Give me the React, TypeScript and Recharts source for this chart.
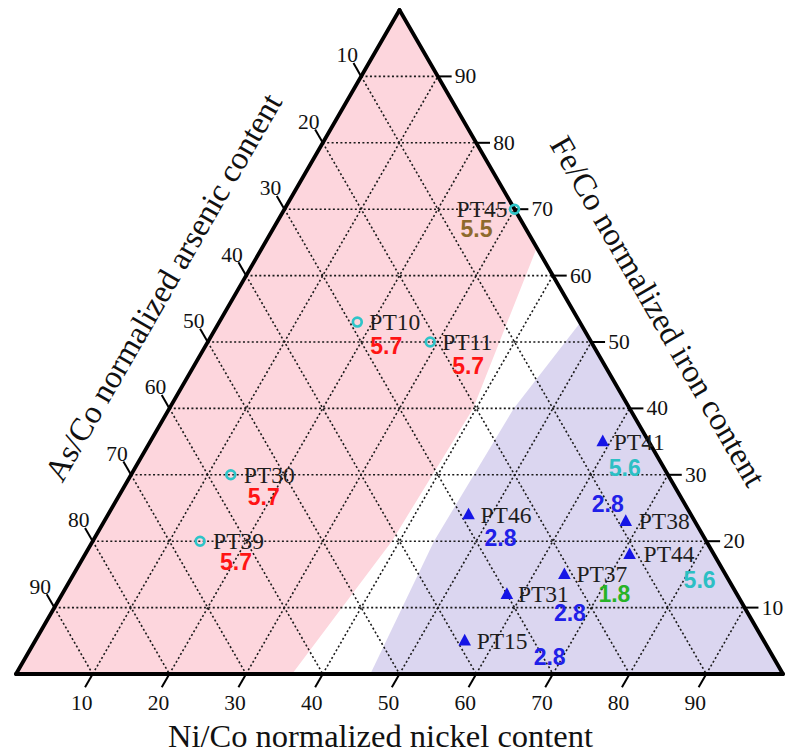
import React from 'react';
import { ComposedChart, XAxis, YAxis, Area, Scatter, ReferenceLine, ReferenceDot } from 'recharts';

// ---------- data (ternary percentages: Ni, Fe; As = 100 - Ni - Fe) ----------
const samples = ['PT45', 'PT10', 'PT11', 'PT30', 'PT39', 'PT41', 'PT46', 'PT38', 'PT44', 'PT37', 'PT31', 'PT15'];
const nickel = [30, 18, 29, 13, 14, 59, 47, 68, 71, 64, 58, 56];
const iron = [70, 53, 50, 30, 20, 35, 24, 23, 18, 15, 12, 5];
const groups = ['circle', 'circle', 'circle', 'circle', 'circle', 'triangle', 'triangle', 'triangle', 'triangle', 'triangle', 'triangle', 'triangle'];
const values = ['5.5', '5.7', '5.7', '5.7', '5.7', '5.6', '2.8', '2.8', '5.6', '1.8', '2.8', '2.8'];

// field boundaries (Ni, Fe)
const pinkBoundaryNi = [36, 39, 39.6, 35.8];
const pinkBoundaryFe = [0, 20, 40, 64.2];
const blueBoundaryNi = [46.2, 44.5, 44.9, 47.1];
const blueBoundaryFe = [0, 20, 40, 52.9];

const tickValues = [10, 20, 30, 40, 50, 60, 70, 80, 90];
const gridValues = [10, 20, 30, 40, 50, 60, 70, 80, 90];

const titleNi = 'Ni/Co normalized nickel content';
const titleFe = 'Fe/Co normalized iron content';
const titleAs = 'As/Co normalized arsenic content';

// ---------- styles / layout ----------
const W = 787;
const H = 753;
const MARGIN = { top: 10, right: 4, bottom: 79, left: 16 };
const SERIF = '"Liberation Serif", "Times New Roman", serif';
const SANS = '"Liberation Sans", Arial, sans-serif';
const PINK = '#fdd6dd';
const LAVENDER = '#dbd6f0';
const CYAN = '#2ec4c8';
const BLUE = '#1515e6';
const valueColor: Record<string, string> = {
  '5.7': '#ff1414',
  '5.5': '#8e6a2c',
  '5.6': '#2cbfc4',
  '2.8': '#2020e8',
  '1.8': '#27b327',
};
const labelLayout: Record<string, { nx: number; ny: number; anchor: 'start' | 'end'; vx: number; vy: number }> = {
  PT45: { nx: -7, ny: 8, anchor: 'end', vx: -54, vy: 28 },
  PT10: { nx: 12, ny: 8, anchor: 'start', vx: 13, vy: 32 },
  PT11: { nx: 12, ny: 8, anchor: 'start', vx: 22, vy: 32 },
  PT30: { nx: 13, ny: 8, anchor: 'start', vx: 17, vy: 30 },
  PT39: { nx: 13, ny: 8, anchor: 'start', vx: 20, vy: 29 },
  PT41: { nx: 11, ny: 8, anchor: 'start', vx: 6, vy: 34 },
  PT46: { nx: 12, ny: 8, anchor: 'start', vx: 16, vy: 31 },
  PT38: { nx: 13, ny: 8, anchor: 'start', vx: -34, vy: -9 },
  PT44: { nx: 14, ny: 8, anchor: 'start', vx: 54, vy: 34 },
  PT37: { nx: 12, ny: 8, anchor: 'start', vx: 34, vy: 28 },
  PT31: { nx: 11, ny: 8, anchor: 'start', vx: 47, vy: 27 },
  PT15: { nx: 12, ny: 8, anchor: 'start', vx: 69, vy: 24 },
};

// ---------- ternary -> cartesian (u along base, v = Fe fraction) ----------
type P = { u: number; v: number };
const tern = (ni: number, fe: number): P => ({ u: (ni + fe / 2) / 100, v: fe / 100 });

const interp = (pts: P[], x: number): number => {
  for (let i = 0; i < pts.length - 1; i++) {
    const a = pts[i];
    const b = pts[i + 1];
    if (x >= a.u - 1e-9 && x <= b.u + 1e-9) {
      if (Math.abs(b.u - a.u) < 1e-12) return b.v;
      return a.v + ((x - a.u) / (b.u - a.u)) * (b.v - a.v);
    }
  }
  return pts[pts.length - 1].v;
};

const rangeData = (lower: P[], upper: P[]) => {
  const xs = Array.from(new Set([...lower, ...upper].map((p) => Number(p.u.toFixed(6))))).sort((a, b) => a - b);
  return xs.map((u) => ({ u, r: [interp(lower, u), interp(upper, u)] }));
};

const pinkBoundary = pinkBoundaryNi.map((n, i) => tern(n, pinkBoundaryFe[i]));
const pinkLower = [tern(0, 0), ...pinkBoundary];
const pinkUpper = [tern(0, 0), tern(0, 100), pinkBoundary[pinkBoundary.length - 1]];
const pinkData = rangeData(pinkLower, pinkUpper);

const blueBoundary = blueBoundaryNi.map((n, i) => tern(n, blueBoundaryFe[i]));
const blueLower = [blueBoundary[0], tern(100, 0)];
const blueUpper = [...blueBoundary, tern(100, 0)];
const blueData = rangeData(blueLower, blueUpper);

const pointData = samples.map((name, i) => ({
  name,
  ...tern(nickel[i], iron[i]),
  group: groups[i],
  value: values[i],
}));

const gridSegments: { a: P; b: P }[] = [];
gridValues.forEach((g) => {
  gridSegments.push({ a: tern(0, g), b: tern(100 - g, g) }); // Fe constant
  gridSegments.push({ a: tern(g, 0), b: tern(g, 100 - g) }); // Ni constant
  gridSegments.push({ a: tern(0, 100 - g), b: tern(100 - g, 0) }); // As constant
});

const edges: { a: P; b: P }[] = [
  { a: tern(0, 0), b: tern(100, 0) },
  { a: tern(100, 0), b: tern(0, 100) },
  { a: tern(0, 100), b: tern(0, 0) },
];

const PointShape = (props: any) => {
  const { cx, cy, payload } = props;
  if (cx == null || cy == null) return null;
  const lay = labelLayout[payload.name];
  const marker =
    payload.group === 'circle' ? (
      <circle cx={cx} cy={cy} r={4.4} fill="none" stroke={CYAN} strokeWidth={2.7} />
    ) : (
      <polygon points={`${cx},${cy - 7} ${cx - 6.3},${cy + 4.6} ${cx + 6.3},${cy + 4.6}`} fill={BLUE} />
    );
  return (
    <g>
      {marker}
      <text x={cx + lay.nx} y={cy + lay.ny} textAnchor={lay.anchor} fontFamily={SERIF} fontSize={23.5} fill="#1e1e1e">
        {payload.name}
      </text>
      <text x={cx + lay.vx} y={cy + lay.vy} textAnchor="start" fontFamily={SANS} fontWeight="bold" fontSize={23} fill={valueColor[payload.value]}>
        {payload.value}
      </text>
    </g>
  );
};

const textShape = (txt: string, dx: number, dy: number, anchor: string, size: number, rotate = 0, center = false) =>
  (p: any) => {
    const x = p.cx + dx;
    const y = p.cy + dy;
    return (
      <text
        x={x}
        y={y}
        dy={center ? '0.35em' : undefined}
        textAnchor={anchor}
        fontFamily={SERIF}
        fontSize={size}
        fill="#111"
        transform={rotate ? `rotate(${rotate} ${x} ${y})` : undefined}
      >
        {txt}
      </text>
    );
  };

export default function App() {
  const midBottom = tern(50, 0);
  const midRight = tern(50, 50);
  const midLeft = tern(0, 50);
  return (
    <div style={{ position: 'absolute', left: 0, top: 0, width: W, height: H, background: '#fff' }}>
      <ComposedChart width={W} height={H} margin={MARGIN}>
        <XAxis type="number" dataKey="u" domain={[0, 1]} hide allowDataOverflow />
        <YAxis type="number" dataKey="v" domain={[0, 1]} hide allowDataOverflow />
        <Area data={pinkData} dataKey="r" type="linear" stroke="none" fill={PINK} fillOpacity={1} isAnimationActive={false} />
        <Area data={blueData} dataKey="r" type="linear" stroke="none" fill={LAVENDER} fillOpacity={1} isAnimationActive={false} />
        {gridSegments.map((s, i) => (
          <ReferenceLine
            key={`g${i}`}
            segment={[{ x: s.a.u, y: s.a.v }, { x: s.b.u, y: s.b.v }]}
            stroke="#1a1a1a"
            strokeWidth={1.6}
            strokeDasharray="2 2.4"
            ifOverflow="visible"
          />
        ))}
        {edges.map((s, i) => (
          <ReferenceLine
            key={`e${i}`}
            segment={[{ x: s.a.u, y: s.a.v }, { x: s.b.u, y: s.b.v }]}
            stroke="#000"
            strokeWidth={3.8}
            strokeLinecap="round"
            ifOverflow="visible"
          />
        ))}
        {tickValues.map((t) => {
          const b = tern(t, 0);
          const r = tern(100 - t, t);
          const l = tern(0, 100 - t);
          return (
            <React.Fragment key={`t${t}`}>
              <ReferenceLine segment={[{ x: b.u, y: b.v }, { x: b.u - 0.01, y: b.v - 0.02 }]} stroke="#000" strokeWidth={2} ifOverflow="visible" />
              <ReferenceLine segment={[{ x: r.u, y: r.v }, { x: r.u + 0.018, y: r.v }]} stroke="#000" strokeWidth={2} ifOverflow="visible" />
              <ReferenceLine segment={[{ x: l.u, y: l.v }, { x: l.u - 0.01, y: l.v + 0.02 }]} stroke="#000" strokeWidth={2} ifOverflow="visible" />
              <ReferenceDot x={b.u} y={b.v} r={0} ifOverflow="visible" shape={textShape(String(t), -11, 36, 'middle', 21.5)} />
              <ReferenceDot x={r.u} y={r.v} r={0} ifOverflow="visible" shape={textShape(String(t), 17, 7, 'start', 21.5)} />
              <ReferenceDot x={l.u} y={l.v} r={0} ifOverflow="visible" shape={textShape(String(t), -14, -14, 'middle', 21.5)} />
            </React.Fragment>
          );
        })}
        <ReferenceDot x={midBottom.u} y={midBottom.v} r={0} ifOverflow="visible" shape={textShape(titleNi, -19, 73, 'middle', 32.5)} />
        <ReferenceDot x={midRight.u} y={midRight.v} r={0} ifOverflow="visible" shape={textShape(titleFe, 67, -31, 'middle', 32.5, 60, true)} />
        <ReferenceDot x={midLeft.u} y={midLeft.v} r={0} ifOverflow="visible" shape={textShape(titleAs, -45, -55, 'middle', 32.5, -60, true)} />
        <Scatter data={pointData} dataKey="v" shape={PointShape} isAnimationActive={false} />
      </ComposedChart>
    </div>
  );
}
